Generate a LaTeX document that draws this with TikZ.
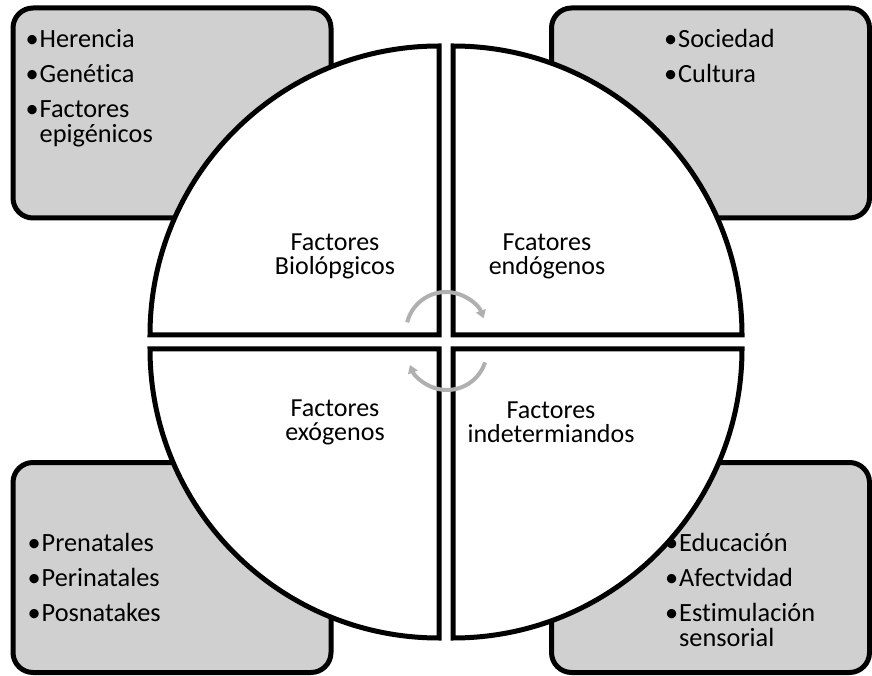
\documentclass[tikz,border=0pt]{standalone}
\usepackage{fontspec}
\setmainfont{Carlito}[Ligatures=NoCommon]
\usetikzlibrary{arrows.meta}
\definecolor{boxgray}{RGB}{208,208,208}
\definecolor{arrowgray}{RGB}{176,176,176}
\tikzstyle{factorbox} = [rectangle, rounded corners=20pt, draw=black, line width=5pt, fill=boxgray, minimum width=318pt, minimum height=210pt, inner sep=0pt]
\tikzstyle{quadrant} = [draw=black, line width=5pt, fill=white]
\tikzstyle{factorlabel} = [align=center, font=\fontsize{26}{24}\selectfont]
\tikzstyle{itemlist} = [align=left, anchor=north west, inner sep=0pt, font=\fontsize{26.3}{25}\selectfont]
\tikzstyle{cyclearrow} = [draw=arrowgray, line width=4pt, -{Triangle[length=8pt,width=10pt]}]
\newcommand{\itm}{\makebox[14pt][l]{\textbullet}}
\newcommand{\hng}{\hspace*{14pt}}

\begin{document}
\begin{tikzpicture}[x=1pt,y=1pt]
	\useasboundingbox (0,0) rectangle (872,675);
	% corner boxes
	\node [factorbox] (bioBox) at (172,562) {};
	\node [factorbox] (endoBox) at (710.5,562) {};
	\node [factorbox] (exoBox) at (172,107.5) {};
	\node [factorbox] (indetBox) at (710.5,107.5) {};
	% four quarters
	\draw [quadrant] (439,340) -- (150,340) arc[start angle=180, end angle=90, radius=289] -- cycle;
	\draw [quadrant] (453,340) -- (453,629) arc[start angle=90, end angle=0, radius=289] -- cycle;
	\draw [quadrant] (439,326) -- (150,326) arc[start angle=180, end angle=270, radius=289] -- cycle;
	\draw [quadrant] (453,326) -- (742,326) arc[start angle=0, end angle=-90, radius=289] -- cycle;
	% quarter labels
	\node [factorlabel] (bio) at (335,419) {Factores\\Biolópgicos};
	\node [factorlabel] (endo) at (547,419) {Fcatores\\endógenos};
	\node [factorlabel] (exo) at (335,253) {Factores\\exógenos};
	\node [factorlabel] (indet) at (551,253) {Factores\\indetermiandos};
	% lists
	\node [itemlist] (bioList) at ([xshift=15pt, yshift=-24pt]bioBox.north west)
		{\itm Herencia\\[10pt] \itm Genética\\[10pt] \itm Factores\\ \hng epigénicos};
	\node [itemlist] (endoList) at ([xshift=115pt, yshift=-24pt]endoBox.north west)
		{\itm Sociedad\\[10pt] \itm Cultura};
	\node [itemlist] (exoList) at ([xshift=17pt, yshift=-73pt]exoBox.north west)
		{\itm Prenatales\\[10pt] \itm Perinatales\\[10pt] \itm Posnatakes};
	\node [itemlist] (indetList) at ([xshift=116pt, yshift=-73pt]indetBox.north west)
		{\itm Educación\\[10pt] \itm Afectvidad\\[10pt] \itm Estimulación\\ \hng sensorial};
	% cycle arrows
	\coordinate (topHub) at (446,343);
	\coordinate (botHub) at (447,325);
	\draw [cyclearrow] ([shift={(166:40)}]topHub) arc[start angle=166, end angle=20, radius=40];
	\draw [cyclearrow] ([shift={(-18:40)}]botHub) arc[start angle=-18, end angle=-158, radius=40];
\end{tikzpicture}
\end{document}
